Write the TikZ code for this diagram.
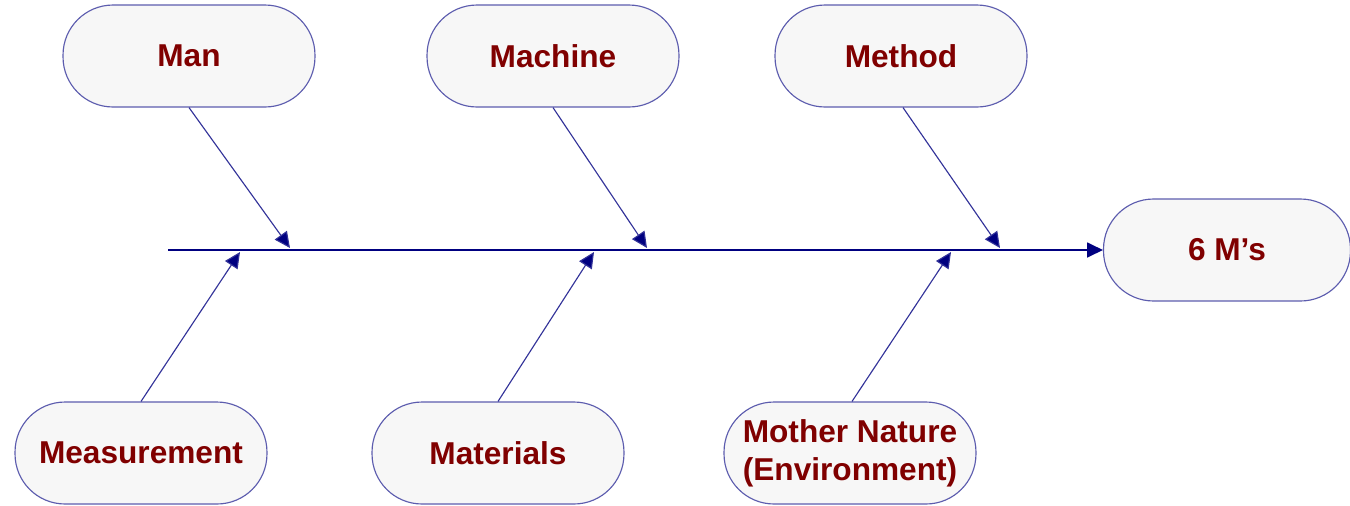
\documentclass[tikz,border=0pt]{standalone}
\usepackage{fontspec}
\setmainfont{Liberation Sans}
\usetikzlibrary{arrows.meta}
\definecolor{boxfill}{HTML}{F7F7F7}
\definecolor{boxline}{HTML}{5C5CAE}
\definecolor{labelred}{HTML}{800000}
\definecolor{bonecol}{HTML}{000080}
\begin{document}
\begin{tikzpicture}[x=0.02cm,y=-0.02cm,
  cat/.style={rectangle, rounded corners=1.0cm, draw=boxline, line width=0.65pt,
    fill=boxfill, minimum width=5.04cm, minimum height=2.04cm, inner sep=0pt,
    font=\fontsize{18}{21.5}\selectfont\bfseries, text=labelred, align=center},
  bone/.style={draw=bonecol!80, line width=0.65pt, -{Triangle[length=9pt,width=8.5pt,fill=bonecol]}},
  spine/.style={draw=bonecol, line width=0.9pt, -{Triangle[length=9pt,width=8.5pt]}},
]
\useasboundingbox (0,0) rectangle (1350,505);

% cause categories above the spine
\node[cat] (man)     at (189,56)  {Man};
\node[cat] (machine) at (553,56)  {Machine};
\node[cat] (method)  at (901,56)  {Method};
% cause categories below the spine
\node[cat] (measure)   at (141,453) {Measurement};
\node[cat] (materials) at (498,453) {Materials};
\node[cat] (nature)    at (850,453) {Mother Nature\\(Environment)};
% effect
\node[cat, minimum width=4.94cm] (effect) at (1227,250) {6 M’s};

% points where the bones meet the spine
\coordinate (tail) at (168,250);
\coordinate (jman) at (290,248);
\coordinate (jmachine) at (647,248);
\coordinate (jmethod) at (1000,248);
\coordinate (jmeasure) at (240,252);
\coordinate (jmaterials) at (594,252);
\coordinate (jnature) at (951,252);

\draw[spine] (tail) -- (effect.west);

\draw[bone] (man.south) -- (jman);
\draw[bone] (machine.south) -- (jmachine);
\draw[bone] ([xshift=0.04cm]method.south) -- (jmethod);
\draw[bone] (measure.north) -- (jmeasure);
\draw[bone] (materials.north) -- (jmaterials);
\draw[bone] ([xshift=0.04cm]nature.north) -- (jnature);
\end{tikzpicture}
\end{document}
